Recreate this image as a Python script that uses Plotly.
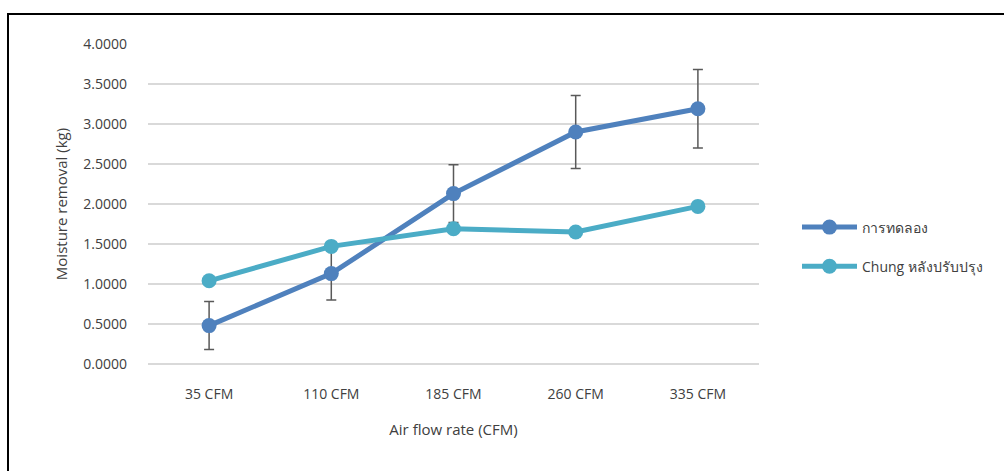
import plotly.graph_objects as go

# Air flow categories and measured moisture removal (kg)
categories = ["35 CFM", "110 CFM", "185 CFM", "260 CFM", "335 CFM"]
experiment = [0.48, 1.13, 2.13, 2.90, 3.19]
experiment_err = [0.30, 0.33, 0.36, 0.455, 0.49]
chung_improved = [1.04, 1.47, 1.69, 1.65, 1.97]

series_names = ["การทดลอง", "Chung หลังปรับปรุง"]
y_ticks = [0, 0.5, 1.0, 1.5, 2.0, 2.5, 3.0, 3.5, 4.0]

BLUE = "#4F81BD"
CYAN = "#4BACC6"
TEXT = "#404040"
FONT = "Open Sans, Noto Sans, DejaVu Sans, sans-serif"

fig = go.Figure()

fig.add_trace(go.Scatter(
    x=categories, y=experiment, name=series_names[0],
    mode="lines+markers", legendgroup="a",
    line=dict(color=BLUE, width=5),
    marker=dict(color=BLUE, size=15),
    error_y=dict(type="data", array=experiment_err, visible=True,
                 color="#595959", thickness=1.5, width=5),
))
fig.add_trace(go.Scatter(
    x=categories, y=chung_improved, name=series_names[1],
    mode="lines+markers", legendgroup="b",
    line=dict(color=CYAN, width=5),
    marker=dict(color=CYAN, size=15),
))

# plot area spans x 148..759 px, y 44..364 px
L, R, T, B = 148, 759, 44, 364
W, H = R - L, B - T

def px(xp):
    return (xp - L) / W

def py(yp):
    return (B - yp) / H

fig.add_shape(type="rect", xref="paper", yref="paper",
              x0=px(8), x1=px(1012), y0=py(480), y1=py(14),
              line=dict(color="#000000", width=2), layer="below")

fig.update_layout(
    width=1004, height=471,
    margin=dict(l=L, r=1004 - R, t=T, b=471 - B),
    paper_bgcolor="white", plot_bgcolor="white",
    font=dict(family=FONT, color=TEXT, size=14),
    showlegend=True,
    legend=dict(x=px(797), y=py(247), xanchor="left", yanchor="middle",
                font=dict(size=14, color=TEXT), tracegroupgap=18,
                itemwidth=55, bgcolor="rgba(0,0,0,0)"),
    xaxis=dict(range=[-0.5, 4.5], showgrid=False, showline=False, zeroline=False,
               ticks="", ticklabelstandoff=20, tickfont=dict(size=14, color=TEXT),
               title=dict(text="Air flow rate (CFM)", font=dict(size=15, color=TEXT),
                          standoff=22)),
    yaxis=dict(range=[0, 4], tickvals=y_ticks, tickformat=".4f",
               showgrid=True, gridcolor="#D9D9D9", gridwidth=1.5,
               zeroline=True, zerolinecolor="#D9D9D9", zerolinewidth=1.5,
               showline=False, ticks="", ticklabelstandoff=20,
               tickfont=dict(size=14, color=TEXT),
               title=dict(text="Moisture removal (kg)", font=dict(size=15, color=TEXT),
                          standoff=12)),
)

fig.write_html("out.html")
